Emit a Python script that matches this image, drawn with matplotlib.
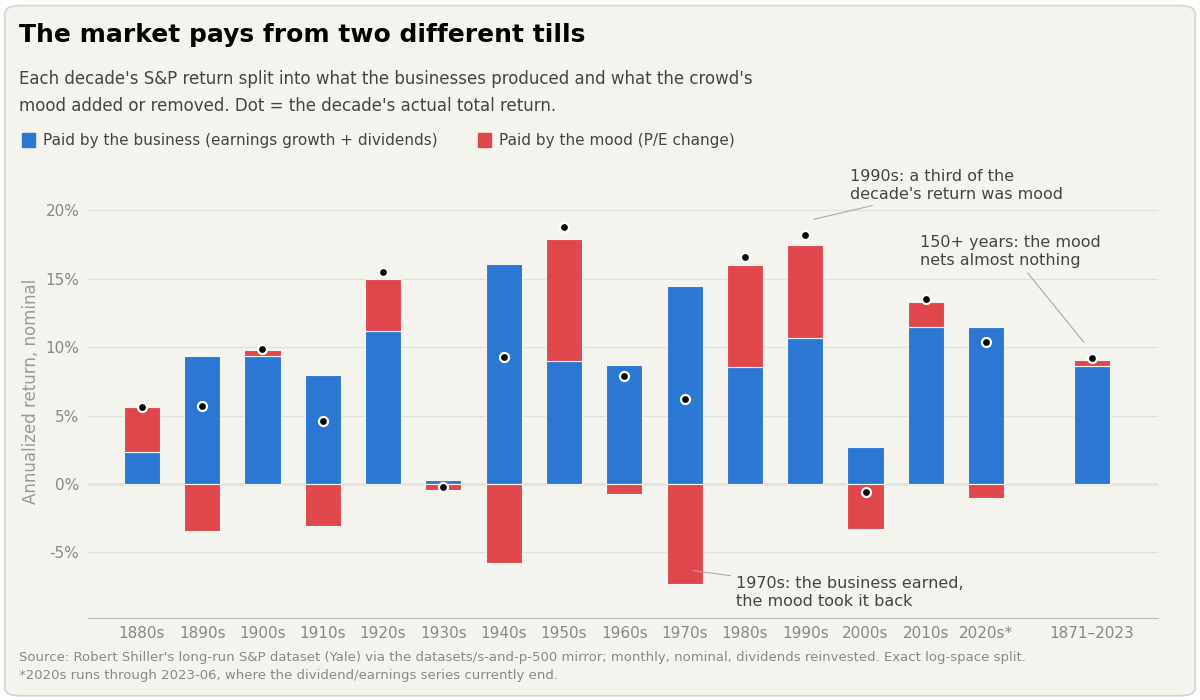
import numpy as np
import matplotlib.pyplot as plt
from matplotlib.patches import FancyBboxPatch

labels = ["1880s", "1890s", "1900s", "1910s", "1920s", "1930s", "1940s", "1950s",
          "1960s", "1970s", "1980s", "1990s", "2000s", "2010s", "2020s*", "1871–2023"]
business = [2.35, 9.35, 9.35, 8.0, 11.2, 0.3, 16.05, 9.0, 8.7, 14.5, 8.55, 10.7, 2.7, 11.45, 11.5, 8.6]
mood = [3.3, -3.4, 0.45, -3.1, 3.8, -0.45, -5.8, 8.9, -0.75, -7.3, 7.45, 6.8, -3.3, 1.85, -1.0, 0.45]
total = [5.6, 5.7, 9.85, 4.6, 15.5, -0.2, 9.25, 18.8, 7.9, 6.2, 16.6, 18.2, -0.6, 13.5, 10.35, 9.2]

BLUE = "#2b78d4"
RED = "#e0474c"
BG = "#f5f3ee"

fig = plt.figure(figsize=(12, 7), dpi=100, facecolor="white")
card = FancyBboxPatch((0.004, 0.006), 0.992, 0.986, boxstyle="round,pad=0,rounding_size=0.012",
                      transform=fig.transFigure, facecolor=BG, edgecolor="#d6d4cf", lw=1.2,
                      zorder=-10)
fig.patches.append(card)

ax = fig.add_axes([0.073, 0.117, 0.892, 0.647])
ax.set_facecolor(BG)
ax.patch.set_alpha(0)

x = np.arange(len(labels), dtype=float)
x[-1] += 0.75
w = 0.6
b = np.array(business)
m = np.array(mood)
ax.bar(x, b, w, color=BLUE, edgecolor=BG, lw=0.8, zorder=2)
mood_bottom = np.where(m >= 0, b, 0)
ax.bar(x, m, w, bottom=mood_bottom, color=RED, edgecolor=BG, lw=0.8, zorder=2)
ax.scatter(x, total, s=42, color="black", edgecolor="white", linewidth=1.6, zorder=4)

ax.set_ylim(-9.8, 23.3)
ax.set_xlim(-0.9, x[-1] + 1.1)
ax.set_yticks([-5, 0, 5, 10, 15, 20])
ax.set_yticklabels(["-5%", "0%", "5%", "10%", "15%", "20%"])
ax.set_xticks(x)
ax.set_xticklabels(labels)
ax.tick_params(colors="#888888", labelsize=11, length=0, pad=6)
ax.grid(axis="y", color="#e2e0db", lw=0.8, zorder=0)
ax.axhline(0, color="#bbbbbb", lw=1, zorder=1)
for s in ["top", "right", "left"]:
    ax.spines[s].set_visible(False)
ax.spines["bottom"].set_color("#bbbbbb")
ax.set_ylabel("Annualized return, nominal", color="#999999", fontsize=12)

# annotations
ann = dict(fontsize=11.5, color="#444444", linespacing=1.25)
ax.annotate("1990s: a third of the\ndecade's return was mood", xy=(x[11] + 0.1, 19.3),
            xytext=(x[11] + 0.75, 20.6), ha="left", va="bottom",
            arrowprops=dict(arrowstyle="-", color="#aaaaaa", lw=0.8), **ann)
ax.annotate("150+ years: the mood\nnets almost nothing", xy=(x[-1] - 0.1, 10.2),
            xytext=(x[13] - 0.1, 15.8), ha="left", va="bottom",
            arrowprops=dict(arrowstyle="-", color="#aaaaaa", lw=0.8), **ann)
ax.annotate("1970s: the business earned,\nthe mood took it back", xy=(x[9] + 0.1, -6.3),
            xytext=(x[9] + 0.85, -7.9), ha="left", va="center",
            arrowprops=dict(arrowstyle="-", color="#aaaaaa", lw=0.8), **ann)

fig.text(0.016, 0.95, "The market pays from two different tills", fontsize=18,
         fontweight="bold", color="black", va="center")
fig.text(0.016, 0.868, "Each decade's S&P return split into what the businesses produced and what the crowd's\n"
         "mood added or removed. Dot = the decade's actual total return.",
         fontsize=12, color="#444444", va="center", linespacing=1.6)

for xx, col, txt in [(0.018, BLUE, "Paid by the business (earnings growth + dividends)"),
                     (0.398, RED, "Paid by the mood (P/E change)")]:
    fig.patches.append(plt.Rectangle((xx, 0.79), 0.011, 0.02, transform=fig.transFigure,
                                     color=col))
    fig.text(xx + 0.018, 0.8, txt, fontsize=11, color="#444444", va="center")

fig.text(0.016, 0.048, "Source: Robert Shiller's long-run S&P dataset (Yale) via the datasets/s-and-p-500 mirror; "
         "monthly, nominal, dividends reinvested. Exact log-space split.\n"
         "*2020s runs through 2023-06, where the dividend/earnings series currently end.",
         fontsize=9.5, color="#888888", va="center", linespacing=1.5)

fig.savefig("out.png", dpi=100, facecolor="white")
